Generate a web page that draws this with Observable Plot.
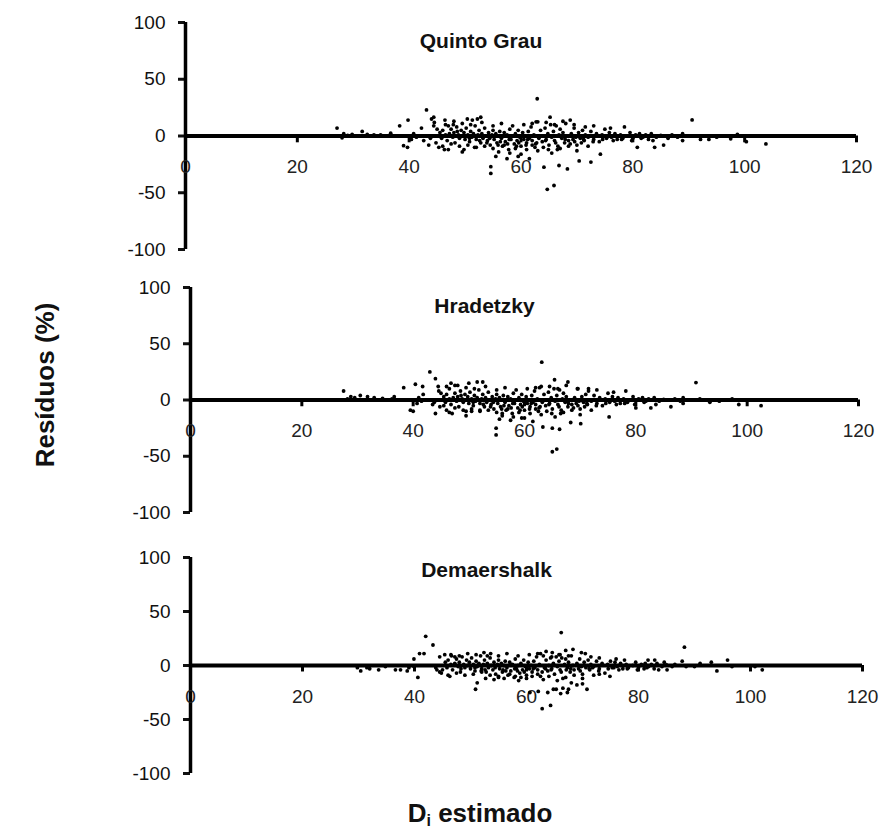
<!DOCTYPE html>
<html>
<head>
<meta charset="utf-8">
<script src="https://cdn.jsdelivr.net/npm/d3@7"></script>
<script src="https://cdn.jsdelivr.net/npm/@observablehq/plot@0.6"></script>
<style>
  html, body { margin: 0; padding: 0; background: #fff; }
  #chart { position: relative; width: 887px; height: 830px; font-family: "Liberation Sans", Arial, sans-serif; }
  .panel { position: absolute; left: 0; }
  .ytitle { position: absolute; left: 45px; top: 385px; transform: translate(-50%, -50%) rotate(-90deg); font-weight: bold; font-size: 26px; white-space: nowrap; color: #111; }
  .xtitle { position: absolute; left: 480px; top: 814px; transform: translate(-50%, -50%); font-weight: bold; font-size: 26px; white-space: nowrap; color: #111; }
  .xtitle sub { font-size: 16px; vertical-align: -4px; }
</style>
</head>
<body>
<div id="chart"></div>
<script>
// ---- data: [D_i estimado, residuo %] ----
const panelTitles = ["Quinto Grau", "Hradetzky", "Demaershalk"];
const yTicks = [-100, -50, 0, 50, 100];
const xTicks = [0, 20, 40, 60, 80, 100, 120];

const quintoGrau = [
  [27.1,7],[28.0,-1.6],[28.3,2],[29.0,0.5],[29.8,1.5],[31.6,4],[32.5,1.5],[33.7,1],[34.9,1],[36.7,2.5],
  [38.3,9],[39.8,14],[39.0,-8.5],[39.7,-10],[40.4,-3],[41.3,-1],[40.8,2],[42.2,7],[43.1,23],[42.6,-4],
  [43.5,-8],[44.0,15],[44.4,9],[44.4,16.6],[45.0,6],[45.3,-10],[46.3,-12],[46.4,14],[47.0,9],[47.9,10],
  [48.6,4],[49.8,-12],[50.4,15],[51.3,14],[52.2,15],[52.8,16.5],[51.7,-10],[54.6,-33],[54.6,-27],
  [45.5,3],[45.8,-2],[46.0,5],[46.5,1],[46.8,-4],[47.2,2],[47.5,6],[47.8,-1],[48.0,3],[48.2,-6],
  [48.5,8],[48.8,1],[49.0,-2],[49.3,5],[49.5,0],[49.8,3],[50.0,-3],[50.2,7],[50.5,1],[50.8,-5],
  [51.0,4],[51.2,-1],[51.5,2],[51.8,9],[52.0,-3],[52.3,1],[52.5,5],[52.8,-6],[53.0,2],[53.2,-2],
  [53.5,7],[53.7,0],[54.0,-4],[54.2,3],[54.5,-8],[54.8,1],[55.0,5],[55.2,-3],[55.5,2],[55.7,-6],
  [56.0,0],[56.2,4],[56.5,-2],[56.7,-9],[57.0,3],[57.2,-5],[57.5,1],[57.8,-12],[58.0,6],[58.2,-3],
  [58.5,0],[58.8,-7],[59.0,2],[59.3,-4],[59.5,5],[59.8,-1],[60.0,-9],[60.3,3],[60.5,-3],[60.8,0],
  [61.0,-6],[61.3,4],[61.5,-2],[61.8,8],[62.0,-4],[62.3,1],[62.5,-10],[62.7,12.5],[63.0,12.5],[62.9,32.8],
  [63.2,-2],[63.5,5],[63.8,-5],[64.0,0],[64.1,-27.5],[64.3,7],[64.5,-3],[64.7,-47],[64.8,2],[65.0,-8],
  [65.2,16.6],[65.3,10],[65.5,-1],[65.9,-43.6],[65.8,4],[66.0,-4],[66.3,9],[66.5,-12],[66.8,-26],[66.8,1],
  [67.0,6],[67.3,-2],[67.5,3],[67.8,-6],[68.0,11],[68.3,-29],[68.3,0],[68.5,-4],[68.8,14],[69.0,2],
  [69.3,-3],[69.5,7],[69.8,-1],[70.0,-8],[70.4,-22],[70.3,3],[70.6,-2],[71.0,5],[71.3,-4],[71.5,1],
  [72.0,-1],[72.5,-23],[72.5,4],[73.0,-3],[73.5,2],[74.0,-5],[74.2,-16],[74.5,1],[75.0,6],[75.3,-2],
  [75.8,3],[76.2,-1],[76.8,2],[77.2,-3],[77.8,1],[78.2,-2],[78.5,8],[79.0,0],[79.5,3],[80.0,-2],
  [80.5,1],[80.8,-10],[81.2,2],[81.8,-1],[82.3,1],[82.8,-3],[83.3,2],[83.9,-10],[84.2,-1],[85.0,0.5],
  [85.5,-8],[86.3,-2],[87.0,1],[88.0,-1],[88.9,2],[88.9,-4],[90.6,14.2],[92.1,-3],[93.6,-3],[95.0,-1],
  [97.5,-2.5],[98.7,1.5],[100.3,-5],[103.8,-7],
  [43.8,-2],[44.8,-6],[46.0,-9],[47.5,-7],[49.0,-9],[50.5,-8],[52.0,-10],[53.5,-9],[55.0,-11],[56.0,-14],
  [57.0,-8],[58.0,-15],[59.0,-11],[60.0,-16],[61.0,-12],[62.0,-8],[63.0,-13],[64.0,-10],[65.5,-15],[67.0,-11],
  [68.5,-9],[70.0,-13],[72.0,-9],[44.5,12],[46.5,10],[48.0,13],[49.5,11],[51.0,10],[53.0,12],[55.0,9],
  [56.5,11],[58.5,9],[60.5,10],[62.0,11],[64.5,12],[66.0,10],[67.5,13],[69.5,10],[71.5,8],[73.0,9],
  [76.0,7],[47.0,-12],[49.5,-14],[57.5,-20],[59.5,-18],[55.5,-18],[61.5,-20],
  [50.8,-2],[52.6,-4],[54.4,-2],[56.3,-5],[57.9,-3],[59.6,-6],[61.2,-3],[62.8,-6],[64.4,-4],[66.2,-6],
  [67.9,-3],[69.6,-5],[71.2,-3],[72.9,-5],[74.6,-3],[76.5,-4],[78.0,-3],[79.8,-4],[81.5,-2],[83.6,-4],
  [53.9,-6],[55.9,-8],[57.6,-7],[59.2,-9],[60.9,-8],[62.6,-7],[64.9,-12],[66.6,-9],[68.8,-7],[70.8,-6]
];

const hradetzky = [
  [27.5,8],[28.2,1],[28.8,3],[29.5,2],[30.5,4],[31.8,3],[33.0,2],[34.5,1.5],[36.2,1],[36.6,3],
  [38.3,11],[40.4,14],[39.5,-9],[40.0,-10],[40.7,-3],[41.5,-1],[41.0,2],[41.7,12],[41.8,5],[43.0,25],
  [43.5,-4],[44.0,19],[44.0,-12],[44.6,8],[45.0,6],[45.5,-5],[46.5,-11],[46.0,12],[46.8,15],[47.5,13],
  [48.6,4],[49.5,-10],[50.0,15],[50.5,-10],[51.5,16],[52.5,16],[52.0,-9],[54.9,-31],[54.9,-25],[56.0,-12],
  [45.5,3],[45.8,-2],[46.0,5],[46.5,1],[46.8,-4],[47.2,2],[47.5,6],[47.8,-1],[48.0,3],[48.2,-6],
  [48.5,8],[48.8,1],[49.0,-2],[49.3,5],[49.5,0],[49.8,3],[50.0,-3],[50.2,7],[50.5,1],[50.8,-5],
  [51.0,4],[51.2,-1],[51.5,2],[51.8,9],[52.0,-3],[52.3,1],[52.5,5],[52.8,-6],[53.0,2],[53.2,-2],
  [53.5,7],[53.7,0],[54.0,-4],[54.2,3],[54.5,-8],[54.8,1],[55.0,5],[55.2,-3],[55.5,2],[55.7,-6],
  [56.0,0],[56.2,4],[56.5,-2],[56.7,-9],[57.0,3],[57.2,-5],[57.5,1],[57.8,-12],[58.0,6],[58.2,-3],
  [58.5,0],[58.8,-7],[59.0,2],[59.3,-4],[59.5,5],[59.8,-1],[60.0,-9],[60.3,3],[60.5,-3],[60.8,0],
  [61.0,-6],[61.3,4],[61.5,-2],[61.8,8],[62.0,-4],[62.3,1],[62.5,-10],[62.7,11],[63.0,12],[63.1,33.6],
  [63.2,-2],[63.5,5],[63.8,-5],[64.0,0],[63.3,-24],[64.3,7],[64.5,-3],[65.0,-46],[64.8,2],[65.0,-8],
  [65.4,18],[65.3,10],[65.5,-1],[65.8,-43.6],[65.8,4],[66.0,-4],[66.3,9],[66.5,-12],[65.0,-25],[66.8,1],
  [67.0,6],[67.3,-2],[67.5,3],[67.8,-6],[67.8,16],[66.3,-26],[68.3,0],[68.5,-4],[68.3,-20],[69.0,2],
  [69.3,-3],[69.6,10],[69.8,-1],[70.0,-8],[70.1,-21],[70.3,3],[70.6,-2],[71.0,5],[71.3,-4],[71.5,10],
  [72.0,-1],[72.5,4],[73.0,-3],[73.5,2],[74.0,-5],[75.2,-15],[74.5,1],[75.0,6],[75.3,-2],
  [75.8,3],[76.2,-1],[76.8,2],[77.2,-3],[77.8,1],[78.2,8],[78.5,-2],[79.0,0],[79.5,3],[80.0,-7],
  [80.5,1],[81.2,2],[81.8,-1],[82.3,1],[82.7,-7],[83.3,2],[84.2,-1],[85.0,0.5],
  [86.3,-6],[87.0,1],[88.0,-1],[88.5,2],[88.5,-3],[90.8,15.5],[91.5,1],[93.3,-2],[95.0,-1],
  [97.3,1],[98.5,-4],[102.5,-5],
  [43.8,-2],[44.8,-6],[46.0,-9],[47.5,-7],[49.0,-9],[50.5,-8],[52.0,-10],[53.5,-9],[55.0,-11],[56.0,-14],
  [57.0,-8],[58.0,-15],[59.0,-11],[60.0,-16],[61.0,-12],[62.0,-8],[63.0,-13],[64.0,-10],[65.5,-15],[67.0,-11],
  [68.5,-9],[70.0,-13],[72.0,-9],[44.5,12],[46.5,10],[48.0,13],[49.5,11],[51.0,10],[53.0,12],[55.0,9],
  [56.5,11],[58.5,9],[60.5,10],[62.0,11],[64.5,12],[66.0,10],[67.5,13],[69.5,10],[71.5,8],[73.0,9],
  [76.0,7],[47.0,-12],[49.5,-14],[57.5,-18],[59.5,-16],[55.5,-17],[61.5,-19],
  [50.8,-2],[52.6,-4],[54.4,-2],[56.3,-5],[57.9,-3],[59.6,-6],[61.2,-3],[62.8,-6],[64.4,-4],[66.2,-6],
  [67.9,-3],[69.6,-5],[71.2,-3],[72.9,-5],[74.6,-3],[76.5,-4],[78.0,-3],[79.8,-4],[81.5,-2],[83.6,-4],
  [53.9,-6],[55.9,-8],[57.6,-7],[59.2,-9],[60.9,-8],[62.6,-7],[64.9,-12],[66.6,-9],[68.8,-7],[70.8,-6]
];

const demaershalk = [
  [29.8,-2],[30.4,-5],[31.5,-2],[32.0,-3],[33.6,-4],[34.8,-1],[36.6,-4],[37.5,-4],[38.7,-5],[39.0,-2],
  [39.9,-1],[40.6,-11],[39.9,6],[40.9,11],[41.7,11],[42.0,27],[43.3,19],[44.0,-4],[44.5,-6],[45.0,-4],
  [45.4,10],[46.3,-10],[46.6,9],[47.2,8],[50.9,-22],[51.2,-16],[52.4,12],[53.6,11],[54.2,-13],[55.0,-10],
  [52.7,-12],[58.6,-14],[60.6,-25],[62.1,-24],[63.8,-25],[64.8,-22],[66.1,-26],[62.8,-40],[64.3,-37],[66.2,30.5],
  [62.5,11],[63.5,13],[64.6,12],[65.8,10],[68.3,15],[69.8,12],[67.0,14],[70.5,11],[67.3,-25],[70.8,-22],
  [68.0,-16],[69.0,-18],[70.0,-17],[65.3,-22],[66.5,-21],[67.5,-22],[74.9,-10],[73.0,-8],[74.0,-7],[77.5,5],
  [81.7,5],[82.9,5],[84.6,3],[85.1,-4],[87.8,4],[88.2,17],[90.0,-1],[91.0,2],[93.0,3],[86.0,-1],
  [81.0,-3],[94.0,-5],[95.9,5],[96.7,-1],[100.8,-1],[102.1,-4],
  [45.5,3],[45.8,-2],[46.0,5],[46.5,1],[46.8,-4],[47.2,2],[47.5,6],[47.8,-1],[48.0,3],[48.2,-6],
  [48.5,8],[48.8,1],[49.0,-2],[49.3,5],[49.5,0],[49.8,3],[50.0,-3],[50.2,7],[50.5,1],[50.8,-5],
  [51.0,4],[51.2,-1],[51.5,2],[51.8,9],[52.0,-3],[52.3,1],[52.5,5],[52.8,-6],[53.0,2],[53.2,-2],
  [53.5,7],[53.7,0],[54.0,-4],[54.2,3],[54.5,-8],[54.8,1],[55.0,5],[55.2,-3],[55.5,2],[55.7,-6],
  [56.0,0],[56.2,4],[56.5,-2],[56.7,-9],[57.0,3],[57.2,-5],[57.5,1],[57.8,-11],[58.0,6],[58.2,-3],
  [58.5,0],[58.8,-7],[59.0,2],[59.3,-4],[59.5,5],[59.8,-1],[60.0,-9],[60.3,3],[60.5,-3],[60.8,0],
  [61.0,-6],[61.3,4],[61.5,-2],[61.8,8],[62.0,-4],[62.3,1],[62.5,-10],[63.0,9],
  [63.2,-2],[63.5,5],[63.8,-5],[64.0,0],[64.3,7],[64.5,-3],[64.8,2],[65.0,-8],
  [65.3,8],[65.5,-1],[65.8,4],[66.0,-4],[66.3,7],[66.5,-12],[66.8,1],
  [67.0,6],[67.3,-2],[67.5,3],[67.8,-6],[68.0,9],[68.3,0],[68.5,-4],[69.0,2],
  [69.3,-3],[69.5,6],[69.8,-1],[70.0,-8],[70.3,3],[70.6,-2],[71.0,5],[71.3,-4],[71.5,1],
  [72.0,-1],[72.5,4],[73.0,-3],[73.5,2],[74.5,1],[75.0,4],[75.3,-2],
  [75.8,3],[76.2,-1],[76.8,2],[77.2,-3],[77.8,1],[78.2,-2],[79.0,0],[79.5,3],[80.0,-2],
  [80.5,1],[81.2,2],[81.8,-1],[82.3,1],[82.8,-3],[83.3,2],[84.2,-1],[85.0,0.5],[86.5,1],[88.5,-1],
  [43.8,-2],[44.8,-7],[46.0,-9],[47.5,-7],[49.0,-9],[50.5,-8],[52.0,-6],[53.5,-9],[55.0,-11],[56.0,-12],
  [57.0,-8],[58.0,-10],[59.0,-11],[60.0,-12],[61.0,-10],[62.0,-8],[63.0,-13],[64.0,-10],[65.5,-14],[67.0,-11],
  [68.5,-9],[70.0,-12],[72.0,-9],[44.5,8],[46.5,10],[48.0,9],[49.5,11],[51.0,10],[53.0,9],[55.0,9],
  [56.5,11],[58.5,9],[60.5,10],[62.0,11],[64.5,8],[66.0,10],[67.5,9],[71.5,8],[73.0,7],[76.0,6],
  [50.8,-2],[52.6,-4],[54.4,-2],[56.3,-5],[57.9,-3],[59.6,-6],[61.2,-3],[62.8,-6],[64.4,-4],[66.2,-6],
  [67.9,-3],[69.6,-5],[71.2,-3],[72.9,-5],[74.6,-3],[76.5,-4],[78.0,-3],[79.8,-4],[81.5,-2],[83.6,-4],
  [48.3,-3],[51.9,-5],[55.8,-4],[58.4,-5],[63.4,-3],[67.1,-4],[71.8,-2],[75.6,-2]
];

const panels = [
  {data: quintoGrau, title: panelTitles[0], top: 0,   height: 265, mt: 22, mb: 16, ml: 185, mr: 31, tdy: 11},
  {data: hradetzky,  title: panelTitles[1], top: 265, height: 265, mt: 22, mb: 18, ml: 190, mr: 29, tdy: 11},
  {data: demaershalk,title: panelTitles[2], top: 530, height: 265, mt: 27, mb: 22, ml: 190, mr: 25, tdy: 5}
];

const chart = document.getElementById("chart");
const font = "Liberation Sans, Arial, sans-serif";

for (const p of panels) {
  const svg = Plot.plot({
    width: 887,
    height: p.height,
    marginTop: p.mt, marginBottom: p.mb, marginLeft: p.ml, marginRight: p.mr,
    style: {fontFamily: font, background: "transparent", color: "#111"},
    x: {domain: [0, 120], axis: null},
    y: {domain: [-100, 100], axis: null},
    marks: [
      Plot.axisY({ticks: yTicks, tickSize: 7, tickPadding: 13, fontSize: 19, strokeWidth: 3,
                  tickFormat: d => String(d)}),
      Plot.ruleX([0], {y1: -100, y2: 100, strokeWidth: 3.5, stroke: "#000"}),
      Plot.ruleX(xTicks.slice(1), {x: d => d, y1: 0, y2: -6, strokeWidth: 3, stroke: "#000"}),
      Plot.ruleY([0], {x1: 0, x2: 120, strokeWidth: 4, stroke: "#000"}),
      Plot.text(xTicks, {x: d => d, y: 0, dy: 31, text: d => String(d), fontSize: 19, fill: "#222"}),
      Plot.dot(p.data, {x: d => d[0], y: d => d[1], r: 1.9, fill: "#000", stroke: null}),
      Plot.text([p.title], {frameAnchor: "top", dx: -40, dy: p.tdy, fontSize: 21, fontWeight: "bold", fill: "#111"})
    ]
  });
  svg.classList.add("panel");
  svg.style.top = p.top + "px";
  chart.appendChild(svg);
}

const yt = document.createElement("div");
yt.className = "ytitle";
yt.textContent = "Resíduos (%)";
chart.appendChild(yt);

const xt = document.createElement("div");
xt.className = "xtitle";
xt.innerHTML = "D<sub>i</sub> estimado";
chart.appendChild(xt);
</script>
</body>
</html>
